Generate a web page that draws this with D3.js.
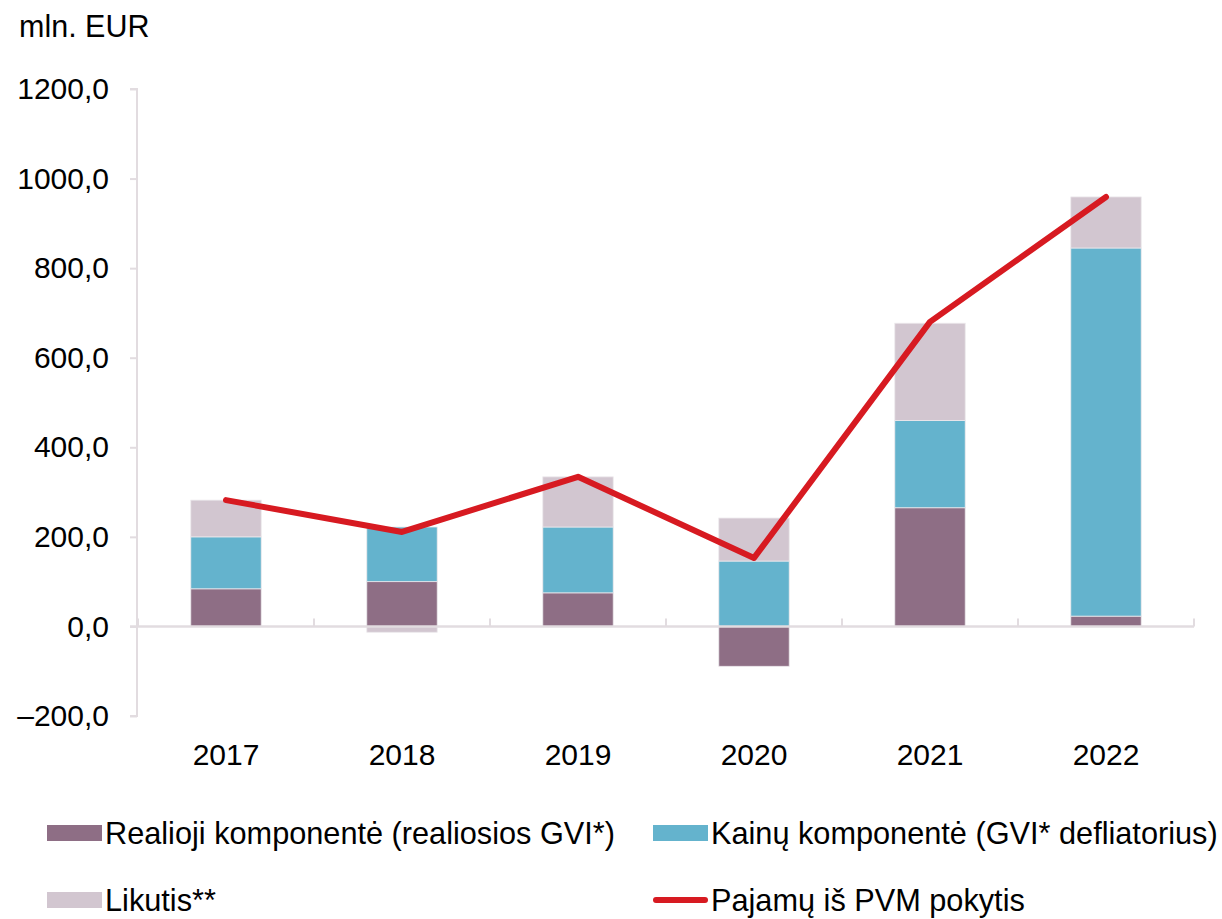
<!DOCTYPE html>
<html>
<head>
<meta charset="utf-8">
<script src="https://cdn.jsdelivr.net/npm/d3@7"></script>
<style>
  body { margin: 0; background: #fff; }
  svg text { font-family: "Liberation Sans", Arial, sans-serif; fill: #000; }
</style>
</head>
<body>
<div id="chart"></div>
<script>
// data (mln. EUR)
var years = ["2017", "2018", "2019", "2020", "2021", "2022"];
var realComp = [84, 100, 75, -89, 265, 23];
var priceComp = [116, 122, 147, 146, 195, 822];
var residual = [82, -13, 112, 96, 217, 114];
var vatChange = [282, 211, 334, 153, 680, 959];
var yTicks = [-200, 0, 200, 400, 600, 800, 1000, 1200];

var seriesNames = ["Realioji komponentė (realiosios GVI*)", "Kainų komponentė (GVI* defliatorius)", "Likutis**"];
var lineName = "Pajamų iš PVM pokytis";
var colors = ["#8e6e85", "#64b3cd", "#d2c6d0"];
var lineColor = "#d71a21";
var axisColor = "#e2dce0";

var W = 1222, H = 919;

var svg = d3.select("#chart")
  .append("svg")
    .attr("width", W)
    .attr("height", H);

// scales
var x = d3.scaleBand()
    .domain(years)
    .range([138, 1194])
    .paddingInner(0.6)
    .paddingOuter(0.3);

var y = d3.scaleLinear()
    .domain([-200, 1200])
    .range([716, 89]);

// table for stacking
var keys = ["real", "price", "rest"];
var table = years.map(function(yr, i) {
  return {year: yr, real: realComp[i], price: priceComp[i], rest: residual[i]};
});
var stacked = d3.stack().keys(keys).offset(d3.stackOffsetDiverging)(table);

// unit label
svg.append("text")
  .attr("x", 19)
  .attr("y", 37)
  .attr("font-size", "30.5px")
  .text("mln. EUR");

// y axis
var fmt = function(v) {
  var s = Math.abs(v).toFixed(1).replace(".", ",");
  return (v < 0 ? "\u2013" : "") + s;
};
var yAxis = svg.append("g")
  .attr("transform", "translate(137,0)")
  .call(d3.axisLeft(y).tickValues(yTicks).tickSize(7).tickPadding(21).tickFormat(fmt));
yAxis.selectAll("text").attr("font-size", "30px").attr("font-family", "Liberation Sans, Arial, sans-serif");
yAxis.selectAll("line").attr("stroke", axisColor).attr("stroke-width", 2);
yAxis.select(".domain").attr("stroke", axisColor).attr("stroke-width", 2)
  .attr("d", "M-7," + y(1200) + "H0V" + y(-200) + "H-7");

// bars
svg.append("g")
  .selectAll("g")
  .data(stacked)
  .enter()
  .append("g")
    .attr("fill", function(d, i) { return colors[i]; })
  .selectAll("rect")
  .data(function(d) { return d; })
  .enter().append("rect")
    .attr("x", function(d) { return x(d.data.year); })
    .attr("y", function(d) { return y(Math.max(d[0], d[1])); })
    .attr("width", x.bandwidth())
    .attr("height", function(d) { return Math.abs(y(d[0]) - y(d[1])); })
    .attr("stroke", "#ece8ec")
    .attr("stroke-width", 0.8);

// x axis line + boundary ticks
var step = x.step();
var gap = (step - x.bandwidth()) / 2;
var bounds = years.map(function(yr) { return x(yr) - gap; });
bounds.push(x(years[years.length - 1]) + x.bandwidth() + gap);

svg.append("line")
  .attr("x1", 130).attr("x2", bounds[bounds.length - 1])
  .attr("y1", y(0)).attr("y2", y(0))
  .attr("stroke", axisColor).attr("stroke-width", 2.5);

svg.append("g")
  .selectAll("line")
  .data(bounds)
  .enter().append("line")
    .attr("x1", function(d) { return d; })
    .attr("x2", function(d) { return d; })
    .attr("y1", y(0))
    .attr("y2", y(0) - 8)
    .attr("stroke", axisColor)
    .attr("stroke-width", 2);

var xAxis = svg.append("g")
  .attr("transform", "translate(0," + y(0) + ")")
  .call(d3.axisBottom(x).tickSize(0).tickPadding(117));
xAxis.select(".domain").remove();
xAxis.selectAll("text").attr("font-size", "30px").attr("font-family", "Liberation Sans, Arial, sans-serif");

// line
var line = d3.line()
  .x(function(d, i) { return x(years[i]) + x.bandwidth() / 2; })
  .y(function(d) { return y(d); });

svg.append("path")
  .datum(vatChange)
  .attr("d", line)
  .attr("fill", "none")
  .attr("stroke", lineColor)
  .attr("stroke-width", 6)
  .attr("stroke-linejoin", "round")
  .attr("stroke-linecap", "round");

// legend
var legendItems = [
  {name: seriesNames[0], color: colors[0], type: "rect", x: 47, y: 833},
  {name: seriesNames[1], color: colors[1], type: "rect", x: 653, y: 833},
  {name: seriesNames[2], color: colors[2], type: "rect", x: 47, y: 900},
  {name: lineName, color: lineColor, type: "line", x: 653, y: 900}
];

var legend = svg.append("g")
  .selectAll("g")
  .data(legendItems)
  .enter()
  .append("g")
    .attr("transform", function(d) { return "translate(" + d.x + "," + d.y + ")"; });

legend.filter(function(d) { return d.type == "rect"; })
  .append("rect")
    .attr("x", 0).attr("y", -8)
    .attr("width", 55).attr("height", 16)
    .attr("fill", function(d) { return d.color; });

legend.filter(function(d) { return d.type == "line"; })
  .append("line")
    .attr("x1", 3).attr("x2", 52)
    .attr("y1", 0).attr("y2", 0)
    .attr("stroke", function(d) { return d.color; })
    .attr("stroke-width", 6)
    .attr("stroke-linecap", "round");

legend.append("text")
  .attr("x", 58)
  .attr("y", 0)
  .attr("dy", "0.36em")
  .attr("font-size", "30.7px")
  .text(function(d) { return d.name; });
</script>
</body>
</html>
